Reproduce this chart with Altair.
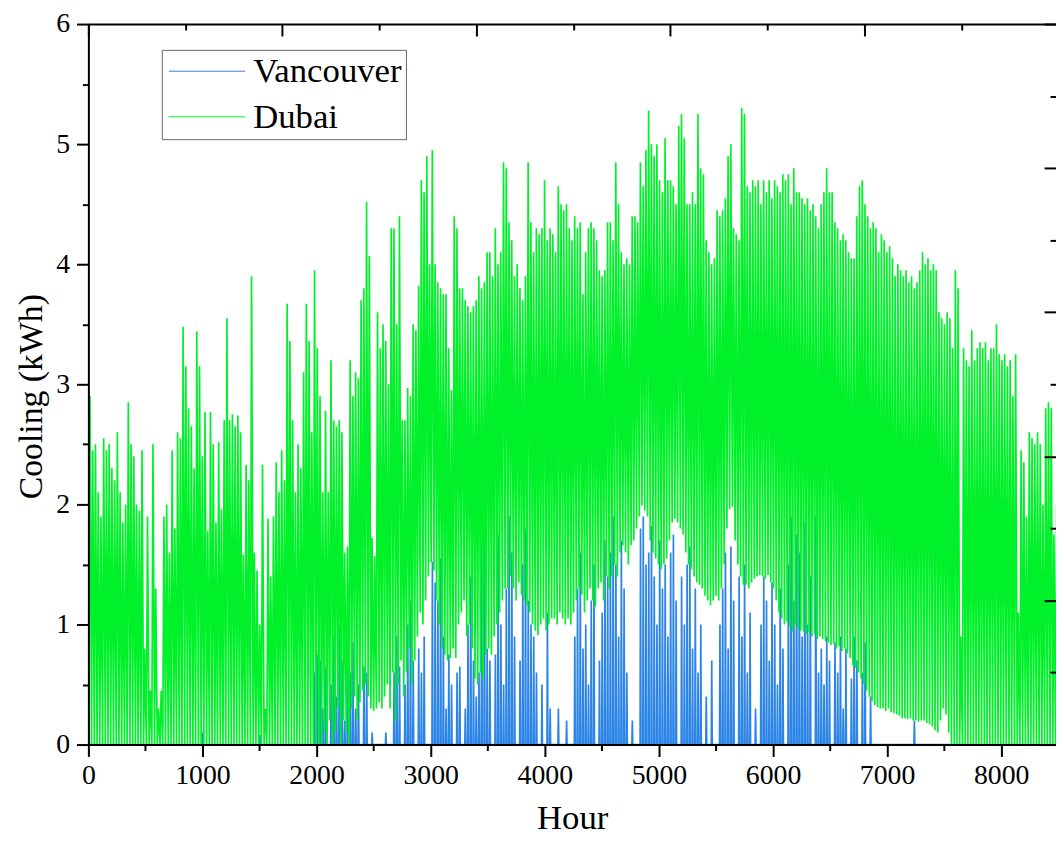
import altair as alt
import pandas as pd

# ---- data: daily peak / night trough values (kWh), day index = hour // 24 ----
dubai_peak = [
    2.9, 2.45, 2.5, 2.1, 1.9, 2.55, 2.45, 2.5, 2.3, 2.2,
    2.6, 2.1, 1.85, 2.0, 2.85, 2.5, 2.4, 2.0, 1.95, 2.45,
    0.8, 1.9, 0.45, 2.5, 1.3, 0.3, 0.45, 1.9, 2.0, 1.6,
    2.45, 1.8, 2.6, 2.55, 3.48, 3.15, 2.8, 2.65, 2.3, 3.44,
    3.15, 2.4, 2.77, 1.78, 2.77, 2.5, 1.85, 2.52, 1.96, 2.7,
    3.55, 2.7, 2.75, 2.65, 2.74, 2.6, 1.58, 2.33, 2.2, 3.9,
    1.6, 1.45, 1.0, 2.33, 0.3, 1.88, 1.4, 1.9, 2.35, 2.1,
    2.45, 2.2, 3.67, 3.36, 2.7, 2.1, 2.5, 2.3, 3.1, 3.67,
    3.36, 2.6, 3.95, 3.3, 2.9, 2.1, 2.78, 2.1, 3.2, 2.7,
    2.65, 2.7, 2.6, 1.6, 1.65, 3.2, 2.9, 3.1, 3.05, 3.7,
    3.8, 4.52, 4.07, 1.72, 1.57, 3.6, 3.3, 3.5, 3.36, 3.0,
    4.3, 4.3, 3.5, 4.4, 2.7, 2.7, 2.97, 2.9, 3.5, 3.45,
    3.82, 4.7, 4.6, 4.9, 4.0, 4.95, 4.0, 3.85, 3.8, 3.75,
    3.75, 3.3, 2.95, 4.4, 4.3, 3.8, 3.8, 3.7, 3.65, 3.6,
    3.65, 3.7, 3.9, 3.8, 3.85, 4.1, 4.1, 3.9, 4.3, 4.0,
    4.1, 4.85, 4.8, 4.35, 4.2, 3.9, 4.0, 3.8, 3.7, 3.9,
    4.85, 4.35, 4.1, 4.3, 4.25, 4.3, 4.7, 4.2, 4.3, 4.25,
    4.1, 4.65, 4.5, 4.45, 4.5, 4.3, 4.2, 4.4, 4.3, 4.35,
    3.75, 4.1, 4.3, 4.35, 4.3, 4.2, 3.95, 3.9, 3.95, 4.35,
    4.35, 4.2, 4.85, 4.5, 4.1, 4.0, 4.05, 4.0, 4.4, 4.4,
    4.35, 4.85, 4.65, 4.95, 5.28, 5.0, 4.9, 5.0, 4.7, 4.6,
    5.05, 4.7, 4.7, 4.65, 4.5, 5.15, 5.25, 5.05, 4.5, 4.5,
    4.6, 4.5, 5.25, 4.8, 4.75, 4.2, 4.1, 4.0, 4.05, 4.45,
    4.4, 4.45, 4.55, 4.9, 5.0, 4.3, 4.25, 4.2, 5.3, 5.25,
    4.65, 4.6, 4.7, 4.65, 4.7, 4.5, 4.7, 4.6, 4.7, 4.55,
    4.7, 4.65, 4.6, 4.75, 4.7, 4.75, 4.5, 4.8, 4.6, 4.6,
    4.55, 4.5, 4.55, 4.45, 4.5, 4.4, 4.3, 4.5, 4.6, 4.8,
    4.6, 4.6, 4.35, 4.3, 4.2, 4.25, 4.2, 4.1, 4.05, 4.05,
    4.4, 4.65, 4.7, 4.5, 4.4, 4.3, 4.35, 4.3, 4.1, 4.25,
    4.2, 4.1, 4.15, 4.05, 3.9, 4.0, 3.95, 3.9, 3.95, 3.85,
    3.9, 3.8, 3.85, 3.95, 4.1, 4.0, 4.05, 3.95, 4.0, 3.95,
    3.6, 3.55, 3.5, 3.6, 3.55, 3.3, 3.95, 3.8, 0.9, 3.3,
    3.2, 3.15, 3.45, 3.2, 3.3, 3.35, 3.3, 3.35, 3.2, 3.3,
    3.3, 3.5, 3.25, 3.2, 3.25, 3.15, 3.2, 2.9, 3.25, 1.1,
    2.45, 2.35, 1.9, 2.6, 2.55, 2.5, 2.6, 2.5, 2.0, 2.8,
    2.85, 2.8, 1.75, 2.0, 2.2,
]

dubai_trough = [
    0, 0, 0, 0, 0, 0, 0, 0, 0, 0,
    0, 0, 0, 0, 0, 0, 0, 0, 0, 0,
    0, 0, 0, 0, 0, 0, 0, 0, 0, 0,
    0, 0, 0, 0, 0, 0, 0, 0, 0, 0,
    0, 0, 0, 0, 0, 0, 0, 0, 0, 0,
    0, 0, 0, 0, 0, 0, 0, 0, 0, 0,
    0, 0, 0, 0, 0, 0, 0, 0, 0, 0,
    0, 0, 0, 0, 0, 0, 0, 0, 0, 0,
    0, 0, 0, 0, 0, 0.0, 0.1, 0.0, 0.2, 0.0,
    0.1, 0.3, 0.0, 0.2, 0.1, 0.0, 0.3, 0.4, 0.2, 0.35,
    0.45, 0.5, 0.4, 0.3, 0.28, 0.3, 0.35, 0.3, 0.4, 0.5,
    0.3, 0.6, 0.2, 0.5, 0.7, 0.4, 0.6, 0.8, 0.5, 0.7,
    0.9, 1.1, 1.0, 1.2, 1.4, 1.52, 1.45, 1.2, 1.0, 0.8,
    0.75, 0.7, 0.72, 0.8, 0.72, 1.0, 1.1, 1.2, 0.9, 1.0,
    0.8, 0.55, 0.5, 0.6, 0.55, 0.75, 0.8, 0.75, 0.9, 1.0,
    1.1, 1.2, 1.3, 1.3, 1.4, 1.3, 1.2, 1.35, 1.25, 1.2,
    1.16, 1.1, 1.0, 0.95, 0.91, 1.0, 1.05, 0.95, 1.0, 1.05,
    1.05, 1.0, 1.1, 1.05, 1.0, 1.05, 1.0, 1.1, 1.2, 1.3,
    1.25, 1.1, 1.2, 1.3, 1.2, 1.15, 1.3, 1.35, 1.2, 1.4,
    1.3, 1.4, 1.5, 1.4, 1.6, 1.66, 1.6, 1.5, 1.66, 1.7,
    1.8, 1.9, 1.99, 1.95, 1.9, 1.7, 1.6, 1.55, 1.5, 1.46,
    1.5, 1.55, 1.7, 1.85, 1.88, 1.85, 1.8, 1.75, 1.6, 1.5,
    1.46, 1.4, 1.35, 1.33, 1.3, 1.24, 1.2, 1.16, 1.2, 1.24,
    1.2, 1.3, 1.5, 1.8, 1.96, 1.98, 1.7, 1.5, 1.4, 1.33,
    1.33, 1.3, 1.35, 1.38, 1.4, 1.41, 1.4, 1.38, 1.41, 1.35,
    1.3, 1.2, 1.1, 1.05, 1.0, 1.02, 0.98, 0.94, 1.0, 0.96,
    0.95, 0.94, 0.92, 0.94, 0.9, 0.92, 0.88, 0.9, 0.88, 0.86,
    0.85, 0.83, 0.84, 0.8, 0.82, 0.78, 0.8, 0.76, 0.72, 0.66,
    0.64, 0.6, 0.55, 0.5, 0.45, 0.4, 0.36, 0.33, 0.31, 0.3,
    0.3, 0.28, 0.3, 0.27, 0.26, 0.25, 0.24, 0.22, 0.22, 0.21,
    0.22, 0.2, 0.2, 0.19, 0.2, 0.2, 0.18, 0.17, 0.15, 0.12,
    0.1, 0.2, 0.3, 0.25, 0.1, 0, 0, 0, 0, 0,
    0, 0, 0, 0, 0, 0, 0, 0, 0, 0,
    0, 0, 0, 0, 0, 0, 0, 0, 0, 0,
    0, 0, 0, 0, 0, 0, 0, 0, 0, 0,
    0, 0, 0, 0, 0,
]

vancouver_peak = [
    0, 0, 0, 0, 0, 0, 0, 0, 0, 0,
    0, 0, 0, 0, 0, 0, 0, 0, 0, 0,
    0, 0, 0, 0, 0, 0, 0, 0, 0, 0,
    0, 0, 0, 0, 0, 0, 0, 0, 0, 0,
    0, 0.1, 0, 0, 0, 0, 0, 0, 0, 0,
    0, 0, 0, 0, 0, 0, 0, 0, 0, 0,
    0, 0, 0.08, 0, 0, 0, 0, 0, 0, 0,
    0, 0, 0, 0, 0, 0, 0, 0, 0, 0,
    0, 0, 0.6, 0.75, 0.7, 0.3, 0.65, 0.0, 0.5, 0.9,
    0.4, 1.0, 0.7, 0.2, 0.8, 0.6, 0.85, 0.3, 0.5, 0.0,
    0.65, 0.6, 0.0, 0.1, 0.0, 0.0, 0.0, 0.0, 0.1, 0.0,
    0.0, 0.6, 0.9, 0.65, 0.0, 0.5, 1.0, 1.2, 0.7, 0.0,
    0.8, 0.6, 0.9, 0.0, 0.0, 1.52, 1.35, 1.2, 1.55, 0.9,
    0.3, 0.75, 0.5, 0.0, 0.6, 0.65, 0.0, 0.3, 1.0, 1.4,
    0.7, 0.4, 0.6, 1.7, 1.9, 0.8, 0.7, 0.0, 0.75, 1.75,
    1.0, 0.5, 1.3, 1.9, 1.6, 0.9, 0.0, 0.7, 1.5, 1.8,
    1.2, 1.0, 0.9, 0.6, 0.0, 0.5, 0.0, 1.1, 0.3, 0.0,
    0.0, 0.3, 0.0, 0.0, 0.2, 0.0, 0.0, 0.9, 1.3, 1.6,
    0.8, 1.0, 0.5, 1.2, 1.5, 0.0, 0.7, 1.1, 1.7, 1.4,
    1.6, 1.9, 1.5, 0.9, 1.7, 1.3, 0.6, 0.0, 0.2, 0.0,
    0.0, 1.8, 1.9, 1.5, 1.6, 1.82, 1.4, 1.0, 1.7, 1.3,
    1.5, 0.9, 1.6, 1.75, 1.2, 0.0, 1.4, 1.0, 1.5, 1.65,
    0.8, 1.3, 0.6, 1.0, 0.0, 0.4, 0.0, 0.7, 0.0, 0.0,
    1.0, 1.3, 1.6, 0.8, 1.65, 1.2, 0.0, 1.4, 0.9, 1.5,
    0.6, 1.1, 0.0, 0.3, 0.0, 1.0, 1.4, 1.2, 0.7, 1.35,
    1.0, 0.5, 1.3, 0.8, 0.0, 1.5, 1.9, 1.2, 1.75, 1.6,
    0.9, 1.85, 1.0, 1.4, 0.0, 1.9, 0.6, 0.8, 0.5, 0.9,
    0.7, 0.0, 0.85, 0.6, 0.9, 0.3, 0.8, 0.0, 0.55, 0.9,
    0.7, 0.0, 0.6, 0.85, 0.0, 0.4, 0, 0, 0, 0,
    0, 0, 0, 0, 0, 0, 0, 0, 0, 0,
    0, 0.2, 0, 0, 0, 0, 0, 0, 0, 0,
    0, 0, 0, 0, 0, 0, 0, 0, 0, 0,
    0, 0, 0, 0, 0, 0, 0, 0, 0, 0,
    0, 0, 0, 0, 0, 0, 0, 0, 0, 0,
    0, 0, 0, 0, 0, 0, 0, 0, 0, 0,
    0, 0, 0, 0, 0,
]

series_names = ["Vancouver", "Dubai"]
series_colors = ["#2B84E6", "#00F02A"]

# axis tick positions
x_major = [0, 1000, 2000, 3000, 4000, 5000, 6000, 7000, 8000]
x_minor = [500, 1500, 2500, 3500, 4500, 5500, 6500, 7500]
y_major = [0, 1, 2, 3, 4, 5, 6]
y_minor = [0.5, 1.5, 2.5, 3.5, 4.5, 5.5]
top_major = [0, 1700, 3400, 5100, 6800]
top_minor = [850, 2550, 4250, 5950, 7650]
right_major = [0, 1.2, 2.4, 3.6, 4.8, 6.0]
right_minor = [0.6, 1.8, 3.0, 4.2, 5.4]

X_MIN, X_MAX = 0, 8480
Y_MIN, Y_MAX = 0, 6
W, H = 975, 726
FONT = "Liberation Serif"

# ---- build the hourly table from the daily values ----
rows = []
for d, v in enumerate(vancouver_peak):
    rows.append({"city": "Vancouver", "hour": 24 * d + 11, "value": 0.0})
    rows.append({"city": "Vancouver", "hour": 24 * d + 15, "value": v})
    rows.append({"city": "Vancouver", "hour": 24 * d + 19, "value": 0.0})
for d, (lo, hi) in enumerate(zip(dubai_trough, dubai_peak)):
    rows.append({"city": "Dubai", "hour": 24 * d + 4, "value": lo})
    rows.append({"city": "Dubai", "hour": 24 * d + 14, "value": hi})
df = pd.DataFrame(rows)
dummy = pd.DataFrame({"hour": [X_MIN], "value": [Y_MIN]})

xscale = alt.Scale(domain=[X_MIN, X_MAX], nice=False, zero=False)
yscale = alt.Scale(domain=[Y_MIN, Y_MAX], nice=False)


def tick_axis(orient, values, size, offset=0):
    return alt.Axis(orient=orient, offset=offset, values=values, labels=False,
                    grid=False, tickSize=size, tickWidth=2, tickColor="black",
                    domain=False, title=None, zindex=1)


lines = alt.Chart(df).mark_line(strokeWidth=1.7, clip=True).encode(
    x=alt.X("hour:Q", scale=xscale, axis=alt.Axis(
        orient="bottom", values=x_major, format="d", grid=False,
        tickSize=12, tickWidth=2, tickColor="black", domainColor="black", domainWidth=2,
        labelFont=FONT, labelFontSize=28, labelColor="black", labelPadding=5,
        labelFlush=False, labelOverlap=False,
        title="Hour", titleFont=FONT, titleFontSize=35, titleFontWeight="normal",
        titleColor="black", titleX=W / 2, titleY=85, titleBaseline="alphabetic",
        titleAlign="center", zindex=1)),
    y=alt.Y("value:Q", scale=yscale, axis=alt.Axis(
        orient="left", values=y_major, format="d", grid=False,
        tickSize=12, tickWidth=2, tickColor="black", domainColor="black", domainWidth=2,
        labelFont=FONT, labelFontSize=28, labelColor="black", labelPadding=7,
        labelFlush=False, labelOverlap=False,
        title="Cooling (kWh)", titleFont=FONT, titleFontSize=34, titleFontWeight="normal",
        titleColor="black", titleX=-57, titleY=375, titleAngle=-90,
        titleAlign="center", titleBaseline="middle", zindex=1)),
    color=alt.Color("city:N", scale=alt.Scale(domain=series_names, range=series_colors),
                    legend=alt.Legend(
                        title=None, orient="none", legendX=74, legendY=26,
                        symbolType="M-3,0H3", symbolSize=659, symbolStrokeWidth=1,
                        symbolOffset=24, labelOffset=29,
                        labelFont=FONT, labelFontSize=35, labelColor="black",
                        strokeColor="#666666", fillColor="white", padding=4,
                        rowPadding=10)),
    detail="city:N",
)


def guide(x_axis, y_axis):
    return alt.Chart(dummy).mark_point(opacity=0, size=0).encode(
        x=alt.X("hour:Q", scale=xscale, axis=x_axis),
        y=alt.Y("value:Q", scale=yscale, axis=y_axis),
    )


# minor ticks on bottom and left (outward)
g1 = guide(tick_axis("bottom", x_minor, 6), tick_axis("left", y_minor, 6))
# inward ticks: top major + right major
g2 = guide(tick_axis("top", top_major, 12, offset=-12),
           tick_axis("left", right_major, 12, offset=-W))
# inward ticks: top minor + right minor
g3 = guide(tick_axis("top", top_minor, 6, offset=-6),
           tick_axis("left", right_minor, 6, offset=-W))
# top frame line
g4 = guide(alt.Axis(orient="top", ticks=False, labels=False, grid=False, domain=True,
                    domainColor="black", domainWidth=2, title=None, zindex=1),
           None)

chart = alt.layer(lines, g1, g2, g3, g4).resolve_axis(
    x="independent", y="independent"
).properties(
    width=W, height=H,
    padding={"left": 81, "top": 13, "right": 0, "bottom": 92},
    autosize=alt.AutoSizeParams(type="none"),
    background="white",
).configure_view(stroke=None)

chart.save("out.html", embed_options={"renderer": "svg", "actions": False})
